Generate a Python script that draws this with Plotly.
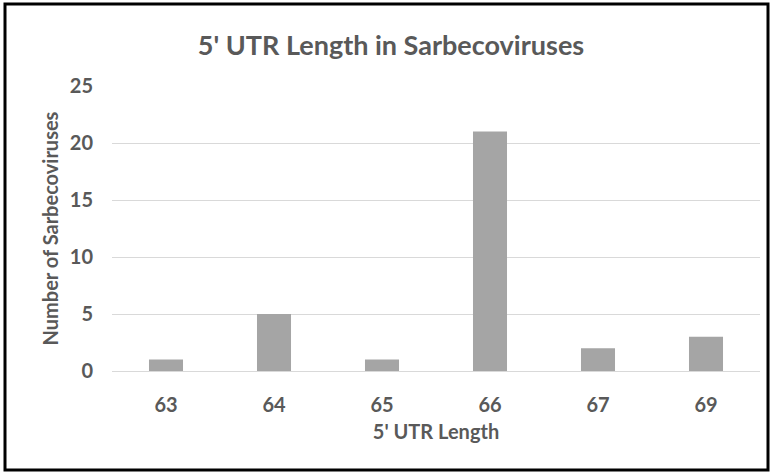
import plotly.graph_objects as go

categories = ["63", "64", "65", "66", "67", "69"]
counts = [1, 5, 1, 21, 2, 3]
y_ticks = [0, 5, 10, 15, 20, 25]

TXT = "#595959"
FONT = "Lato, 'Open Sans', sans-serif"

fig = go.Figure(go.Bar(
    x=categories, y=counts,
    marker=dict(color="#a5a5a5", line=dict(width=0)),
    width=0.315,
))

W, H = 773, 474
L, R, T, B = 112, 13, 86, 103
pw, ph = W - L - R, H - T - B

def px_x(p):
    return (p - L) / pw

def px_y(p):
    return (H - B - p) / ph

fig.update_layout(
    width=W, height=H,
    margin=dict(l=L, r=R, t=T, b=B, autoexpand=False),
    paper_bgcolor="white", plot_bgcolor="white",
    showlegend=False,
    hovermode=False,
    title=dict(
        text="5' UTR Length in Sarbecoviruses",
        x=(198 + 584) / 2 / W, xanchor="center",
        y=1 - 46 / H, yanchor="middle",
        font=dict(family=FONT, size=27, color=TXT, weight="bold"),
    ),
    xaxis=dict(
        type="category", automargin=False,
        showgrid=False, zeroline=False, showline=False,
        ticks="", ticklabelstandoff=20,
        tickfont=dict(family=FONT, size=20, color=TXT, weight="bold"),
        title=dict(text="5' UTR Length", standoff=9,
                   font=dict(family=FONT, size=20, color=TXT, weight="bold")),
    ),
    yaxis=dict(
        range=[0, 25], tickvals=y_ticks, automargin=False,
        showgrid=True, gridcolor="#d9d9d9", gridwidth=1,
        zeroline=True, zerolinecolor="#d9d9d9", zerolinewidth=1,
        showline=False, ticks="", ticklabelstandoff=18,
        tickfont=dict(family=FONT, size=20, color=TXT, weight="bold"),
        title=dict(text="Number of Sarbecoviruses", standoff=5,
                   font=dict(family=FONT, size=20, color=TXT, weight="bold")),
    ),
    shapes=[dict(
        type="rect", xref="paper", yref="paper",
        x0=px_x(5), x1=px_x(768), y0=px_y(470), y1=px_y(4),
        line=dict(color="black", width=3), fillcolor="rgba(0,0,0,0)",
        layer="above",
    )],
)

fig.write_html(
    "out.html",
    config={"displayModeBar": False},
    post_script="document.body.style.margin='0';document.body.style.overflow='hidden';",
)
